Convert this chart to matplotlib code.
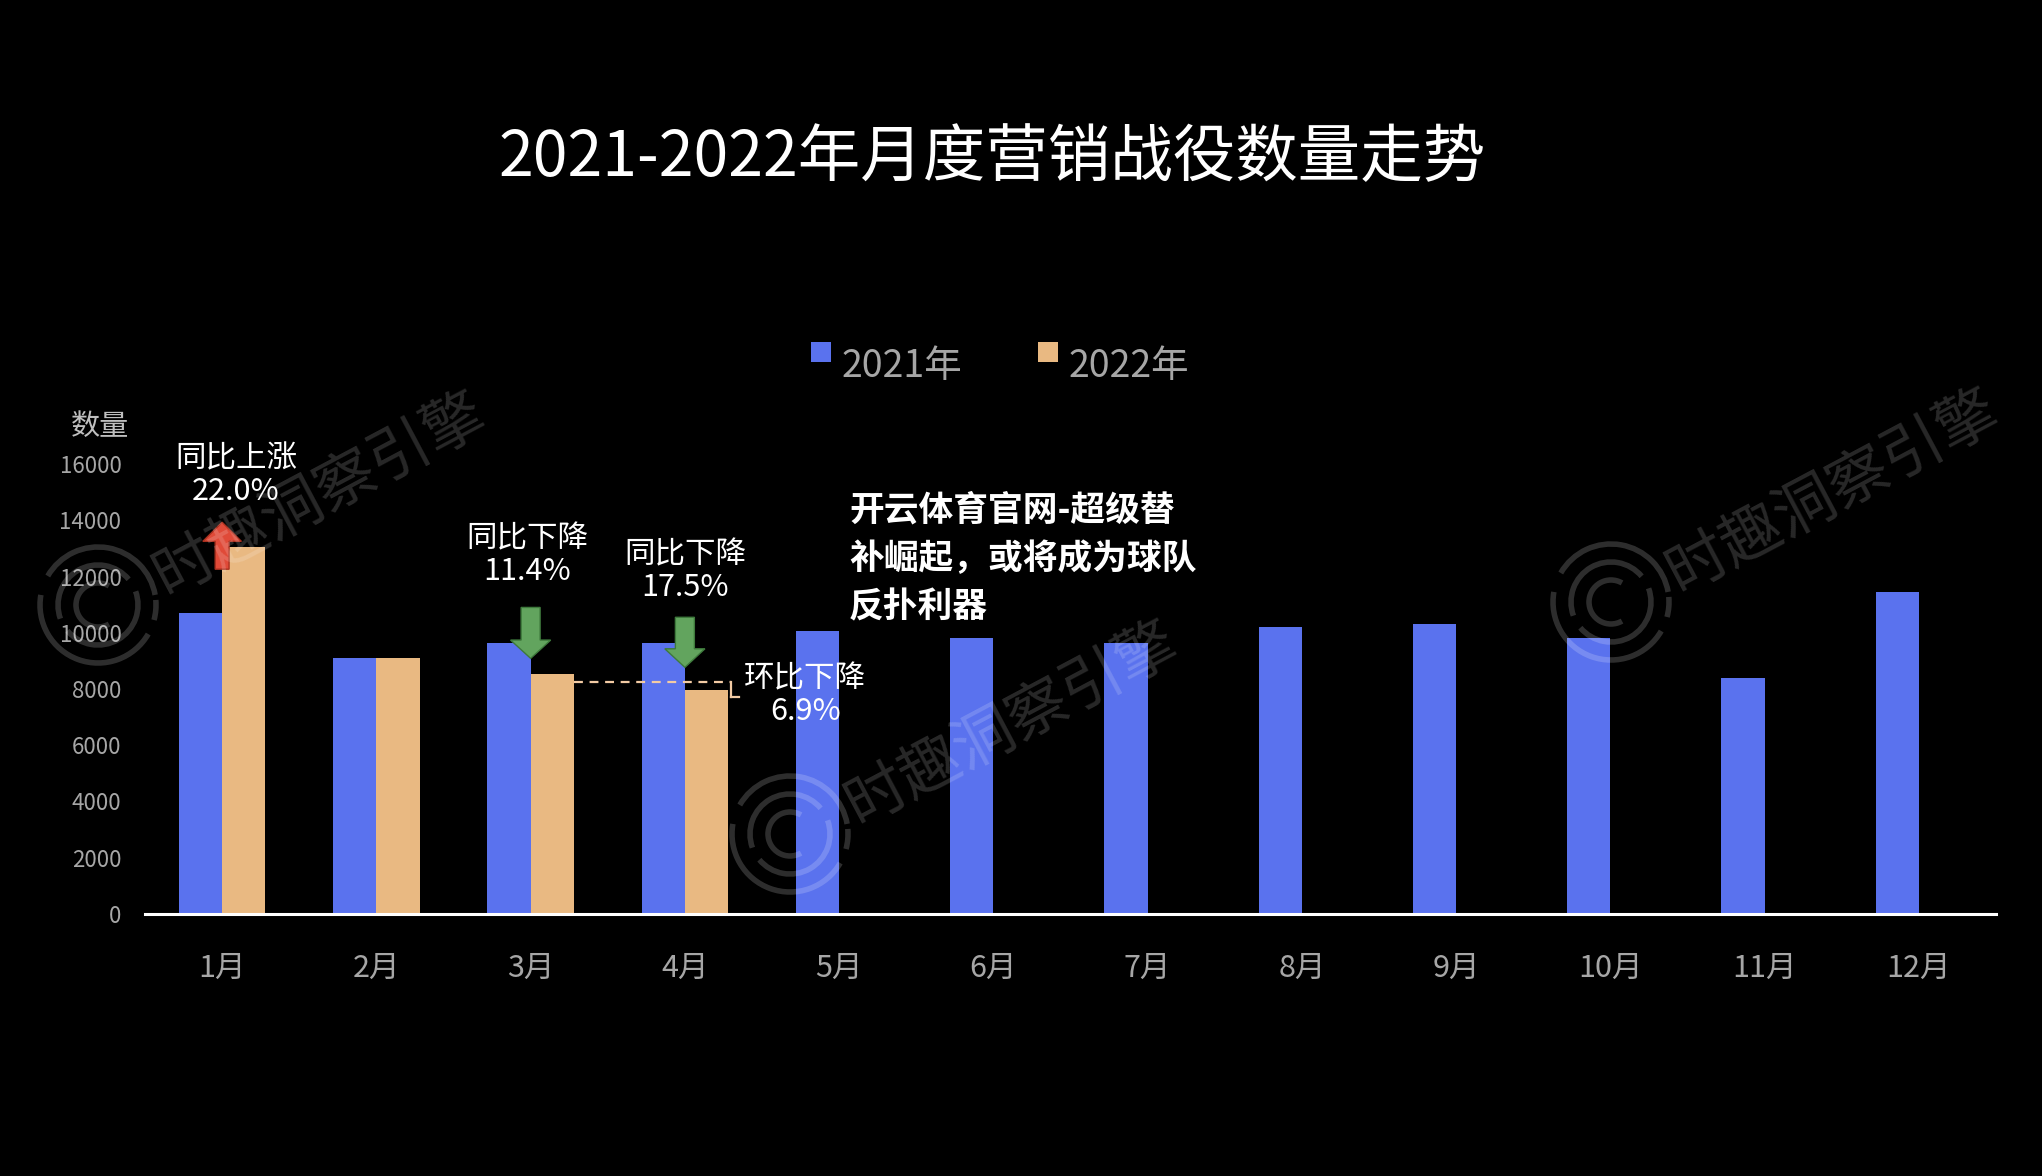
import numpy as np
import matplotlib.pyplot as plt
from matplotlib.patches import Rectangle, Arc

plt.rcParams['font.family'] = ['Noto Sans CJK SC', 'DejaVu Sans']

# data
months = ['1月', '2月', '3月', '4月', '5月', '6月', '7月', '8月', '9月', '10月', '11月', '12月']
counts_2021 = [10700, 9100, 9650, 9650, 10050, 9800, 9650, 10200, 10300, 9800, 8400, 11450]
counts_2022 = [13050, 9100, 8550, 7950]
yticks = [0, 2000, 4000, 6000, 8000, 10000, 12000, 14000, 16000]

blue = '#5A72EE'
orange = '#E9B982'
W, H = 2042, 1176

fig = plt.figure(figsize=(W / 100, H / 100), dpi=100, facecolor='black')
ax = fig.add_axes([145 / W, 1 - 914 / H, (1996 - 145) / W, (914 - 464) / H])
ax.set_facecolor('black')

bw = 0.28
x21 = np.arange(len(counts_2021))
x22 = np.arange(len(counts_2022))
ax.bar(x21 - bw / 2, counts_2021, bw, color=blue, zorder=2)
ax.bar(x22 + bw / 2, counts_2022, bw, color=orange, zorder=2)

ax.set_xlim(-0.5, 11.5)
ax.set_ylim(0, 16000)
ax.set_yticks(yticks)
ax.set_yticklabels([str(v) for v in yticks], fontsize=16, color='#A6A6A6', fontweight='light')
ax.set_xticks(x21)
ax.set_xticklabels(months, fontsize=22, color='#A6A6A6', fontweight='light')
ax.tick_params(axis='y', length=0, pad=17)
ax.tick_params(axis='x', length=0, pad=28)
for s in ['top', 'right', 'left']:
    ax.spines[s].set_visible(False)
ax.spines['bottom'].set_color('white')
ax.spines['bottom'].set_linewidth(2.2)
ax.spines['bottom'].set_zorder(3)

# y axis name
fig.text(100 / W, 1 - 427 / H, '数量', fontsize=21, color='#BFBFBF', ha='center', va='center', fontweight='light')

# title
fig.text(992 / W, 1 - 158 / H, '2021-2022年月度营销战役数量走势', fontsize=45,
         color='white', ha='center', va='center')

# legend drawn by hand
for sx, col, lab in [(811, blue, '2021年'), (1038, orange, '2022年')]:
    fig.add_artist(Rectangle((sx / W, 1 - 362 / H), 20 / W, 20 / H, transform=fig.transFigure,
                             facecolor=col, edgecolor='none'))
    fig.text((sx + 31) / W, 1 - 367 / H, lab, fontsize=27, color='#A6A6A6',
             ha='left', va='center', fontweight='light')

# arrows
ax.arrow(0, 12260, 0, 13930 - 12260, width=0.09, head_width=0.25, head_length=680,
         length_includes_head=True, facecolor='#E04A38', edgecolor='#A8301F', lw=1, zorder=4)
ax.arrow(2, 10900, 0, 9090 - 10900, width=0.123, head_width=0.26, head_length=650,
         length_includes_head=True, facecolor='#62A45E', edgecolor='#3E7A3C', lw=1, zorder=4)
ax.arrow(3, 10550, 0, 8770 - 10550, width=0.123, head_width=0.26, head_length=660,
         length_includes_head=True, facecolor='#62A45E', edgecolor='#3E7A3C', lw=1, zorder=4)

ann_kw = dict(fontsize=22, color='white', ha='center', va='center', linespacing=1.05,
              fontweight='light', zorder=5)
ax.text(0.09, 15600, '同比上涨\n22.0%', **ann_kw)
ax.text(1.98, 12760, '同比下降\n11.4%', **ann_kw)
ax.text(3.0, 12190, '同比下降\n17.5%', **ann_kw)
ax.text(3.78, 7770, '环比下降\n6.9%', **ann_kw)

# month-on-month bracket
bc = '#F3CBA4'
ax.plot([2 + bw, 3 + bw + 0.02], [8250, 8250], ls=(0, (4, 3)), color=bc, lw=1.6, zorder=4)
ax.plot([3 + bw + 0.02, 3 + bw + 0.02], [8250, 7720], color=bc, lw=1.6, zorder=4)
ax.plot([3 + bw + 0.02, 3 + bw + 0.07], [7720, 7720], color=bc, lw=1.6, zorder=4)

# overlay headline
for i, line in enumerate(['开云体育官网-超级替', '补崛起，或将成为球队', '反扑利器']):
    fig.text(849 / W, 1 - (510 + 48.5 * i) / H, line, fontsize=25, color='white',
             fontweight='heavy', ha='left', va='center', zorder=6)

# faint watermarks
for lx, ly in [(98, 605), (790, 834), (1611, 602)]:
    for r, segs in [(58, [(10, 150), (170, 330), (345, 365)]),
                    (40, [(40, 200), (220, 380)]),
                    (22, [(60, 300)])]:
        for a0, a1 in segs:
            fig.add_artist(Arc((lx, H - ly), 2 * r, 2 * r, theta1=a0, theta2=a1,
                               transform=None, color='white', alpha=0.18, lw=4))
    fig.text((lx + 221) / W, 1 - (ly - 110) / H, '时趣洞察引擎', fontsize=44, color='white',
             alpha=0.16, rotation=28, ha='center', va='center', rotation_mode='anchor', zorder=7)

fig.savefig('out.png', dpi=100, facecolor='black')
